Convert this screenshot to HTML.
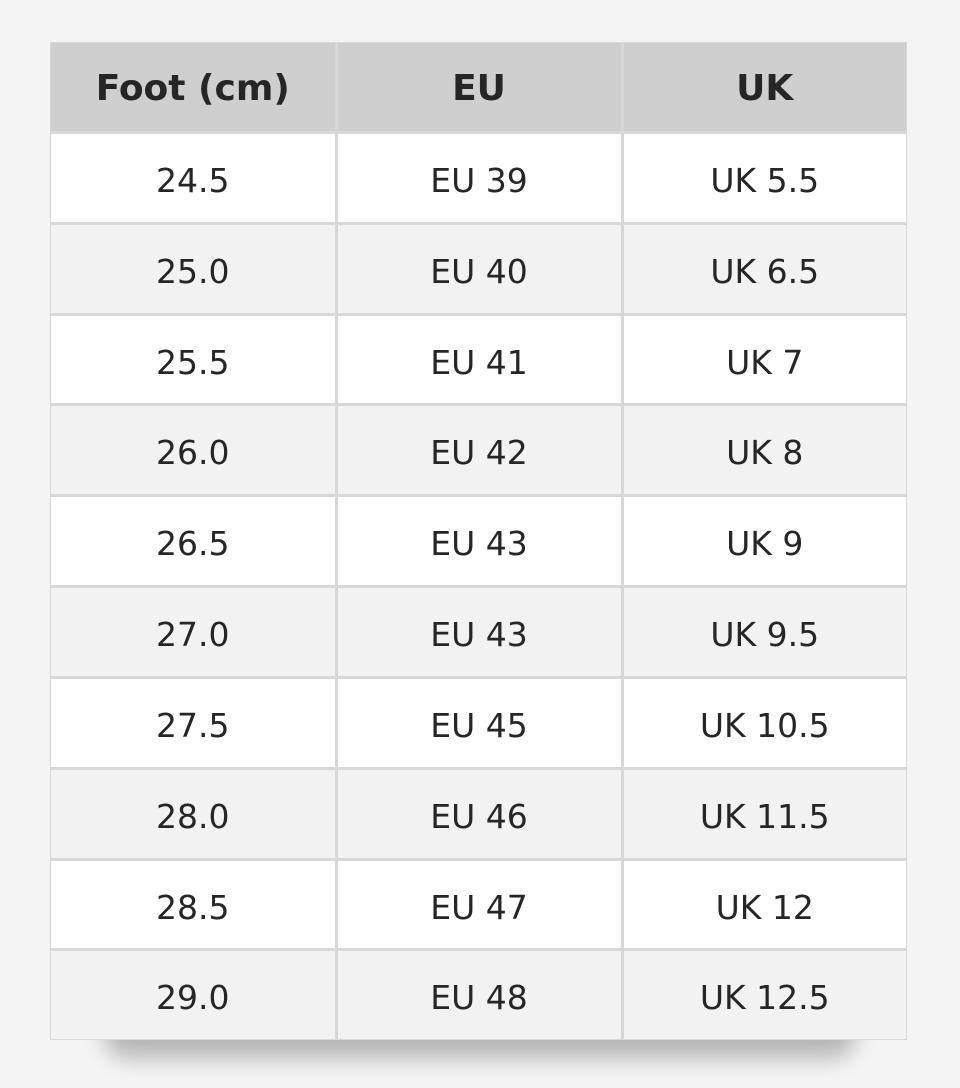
<!DOCTYPE html>
<html><head><meta charset="utf-8"><style>
html,body{margin:0;padding:0;}
body{width:960px;height:1088px;background:#f4f4f4;position:relative;overflow:hidden;font-family:"DejaVu Sans","Liberation Sans",sans-serif;color:#262626;}
.shadow{position:absolute;left:110px;top:1000px;width:740px;height:36px;background:#aaa;box-shadow:0 16px 22px 6px rgba(0,0,0,0.26);border-radius:20px;}
.tbl{position:absolute;left:50px;top:42px;width:857px;height:998px;background:#d8d8d8;}
.c{position:absolute;display:flex;align-items:center;justify-content:center;font-size:33px;box-sizing:border-box;padding-top:6px;}
.h{background:#cfcfcf;font-weight:bold;font-size:36px;padding-top:3px;}
.w{background:#ffffff;}
.g{background:#f2f2f2;}
</style></head><body>
<div class="shadow"></div>
<div class="tbl" id="t"></div>
<script>
var ys=[0,90,181,272,362,453,544,635,726,817,907,998];
var xs=[0,286,572,857];
var data=[["Foot (cm)","EU","UK"],["24.5","EU 39","UK 5.5"],["25.0","EU 40","UK 6.5"],["25.5","EU 41","UK 7"],["26.0","EU 42","UK 8"],["26.5","EU 43","UK 9"],["27.0","EU 43","UK 9.5"],["27.5","EU 45","UK 10.5"],["28.0","EU 46","UK 11.5"],["28.5","EU 47","UK 12"],["29.0","EU 48","UK 12.5"]];
var t=document.getElementById('t'),h='';
for(var r=0;r<11;r++){for(var c=0;c<3;c++){
var x0=xs[c]+(c==0?1:1.5),x1=xs[c+1]-(c==2?1:1.5),y0=ys[r]+(r==0?1:1.5),y1=ys[r+1]-(r==10?1:1.5);
var cls=r==0?'h':(r%2==1?'w':'g');
h+='<div class="c '+cls+'" style="left:'+x0+'px;top:'+y0+'px;width:'+(x1-x0)+'px;height:'+(y1-y0)+'px">'+data[r][c]+'</div>';}}
t.innerHTML=h;
</script>
</body></html>
